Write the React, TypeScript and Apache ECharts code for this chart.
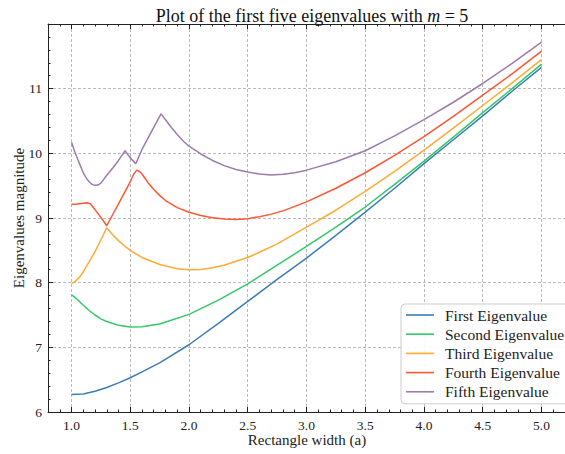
import React, { useEffect, useRef } from "react";
import * as echarts from "echarts";

// ---- Data ----
const firstX = [1.0, 1.1, 1.2, 1.3, 1.4, 1.5, 1.6, 1.75, 2.0, 2.25, 2.5, 2.75, 3.0, 3.25, 3.5, 3.75, 4.0, 4.25, 4.5, 4.75, 5.0];
const firstY = [6.27, 6.28, 6.32, 6.38, 6.45, 6.53, 6.62, 6.76, 7.04, 7.37, 7.71, 8.05, 8.38, 8.73, 9.09, 9.46, 9.84, 10.21, 10.58, 10.96, 11.33];

const secondX = [1.0, 1.025, 1.05, 1.1, 1.15, 1.2, 1.25, 1.3, 1.4, 1.5, 1.6, 1.75, 2.0, 2.25, 2.5, 2.75, 3.0, 3.25, 3.5, 3.75, 4.0, 4.25, 4.5, 4.75, 5.0];
const secondY = [7.81, 7.78, 7.74, 7.65, 7.57, 7.5, 7.44, 7.4, 7.34, 7.315, 7.32, 7.36, 7.51, 7.73, 7.98, 8.27, 8.56, 8.86, 9.17, 9.52, 9.88, 10.25, 10.63, 11.0, 11.38];

const thirdX = [1.0, 1.025, 1.05, 1.075, 1.1, 1.15, 1.2, 1.25, 1.3, 1.35, 1.4, 1.45, 1.5, 1.6, 1.75, 1.9, 2.0, 2.1, 2.2, 2.3, 2.4, 2.5, 2.6, 2.75, 3.0, 3.25, 3.5, 3.75, 4.0, 4.25, 4.5, 4.75, 5.0];
const thirdY = [7.99, 8.01, 8.05, 8.1, 8.17, 8.32, 8.48, 8.66, 8.85, 8.74, 8.65, 8.57, 8.5, 8.39, 8.28, 8.215, 8.2, 8.205, 8.23, 8.27, 8.33, 8.39, 8.47, 8.6, 8.86, 9.12, 9.41, 9.72, 10.05, 10.39, 10.74, 11.09, 11.45];

const fourthX = [1.0, 1.05, 1.1, 1.13, 1.16, 1.2, 1.25, 1.3, 1.35, 1.4, 1.45, 1.5, 1.53, 1.555, 1.58, 1.6, 1.65, 1.7, 1.75, 1.8, 1.9, 2.0, 2.1, 2.2, 2.3, 2.4, 2.5, 2.6, 2.7, 2.8, 2.9, 3.0, 3.25, 3.5, 3.75, 4.0, 4.25, 4.5, 4.75, 5.0];
const fourthY = [9.21, 9.215, 9.228, 9.235, 9.22, 9.13, 9.01, 8.88, 9.05, 9.22, 9.39, 9.56, 9.68, 9.74, 9.72, 9.68, 9.55, 9.44, 9.35, 9.27, 9.16, 9.09, 9.04, 9.005, 8.985, 8.975, 8.99, 9.02, 9.06, 9.11, 9.18, 9.25, 9.46, 9.7, 9.97, 10.26, 10.57, 10.9, 11.23, 11.58];

const fifthX = [1.0, 1.025, 1.05, 1.075, 1.1, 1.125, 1.15, 1.175, 1.2, 1.225, 1.25, 1.3, 1.35, 1.4, 1.456, 1.5, 1.547, 1.6, 1.65, 1.7, 1.762, 1.8, 1.85, 1.9, 1.95, 2.0, 2.1, 2.2, 2.3, 2.4, 2.5, 2.6, 2.7, 2.8, 2.9, 3.0, 3.25, 3.5, 3.75, 4.0, 4.25, 4.5, 4.75, 5.0];
const fifthY = [10.17, 10.04, 9.92, 9.81, 9.7, 9.62, 9.56, 9.52, 9.505, 9.51, 9.54, 9.66, 9.77, 9.89, 10.04, 9.93, 9.84, 10.06, 10.23, 10.4, 10.61, 10.52, 10.4, 10.29, 10.19, 10.11, 9.99, 9.89, 9.81, 9.75, 9.71, 9.68, 9.665, 9.675, 9.7, 9.74, 9.87, 10.04, 10.27, 10.52, 10.79, 11.08, 11.39, 11.72];

const seriesNames = ["First Eigenvalue", "Second Eigenvalue", "Third Eigenvalue", "Fourth Eigenvalue", "Fifth Eigenvalue"];
const seriesColors = ["#3d7db7", "#33c76a", "#ffaa33", "#ff5633", "#9d7cac"];

const xMajorTicks = [1.0, 1.5, 2.0, 2.5, 3.0, 3.5, 4.0, 4.5, 5.0];

const X_MIN = 0.8;
const X_MAX = 5.2;
const Y_MIN = 6;
const Y_MAX = 12;

const FONT = "Liberation Serif";

function zip(xs: number[], ys: number[]) {
  return xs.map((x, i) => [x, ys[i]]);
}

function minorTicks(): number[] {
  const out: number[] = [];
  for (let i = Math.round(X_MIN * 10); i <= Math.round(X_MAX * 10); i++) {
    if (i % 5 !== 0) out.push(i / 10);
  }
  return out;
}

export default function App() {
  const ref = useRef<HTMLDivElement>(null);

  useEffect(() => {
    if (!ref.current) return;
    const chart = echarts.init(ref.current, null, { renderer: "svg" });
    const xs = [firstX, secondX, thirdX, fourthX, fifthX];
    const ys = [firstY, secondY, thirdY, fourthY, fifthY];
    const minor = minorTicks();

    const axisLine = { show: true, lineStyle: { color: "#222", width: 1 } };
    const gridLine = { show: true, lineStyle: { color: "#a8a8a8", width: 0.8, type: [3, 2] as any } };

    const baseX = {
      type: "value" as const,
      min: X_MIN,
      max: X_MAX,
      gridIndex: 0,
    };

    const option: any = {
      animation: false,
      backgroundColor: "#fff",
      textStyle: { fontFamily: FONT },
      title: {
        text: "{a|Plot of the first five eigenvalues with }{m|m}{a| = 5}",
        left: 307,
        textAlign: "center",
        top: 2,
        textStyle: {
          fontWeight: "normal",
          fontFamily: FONT,
          rich: {
            a: { fontFamily: FONT, fontSize: 18, fontWeight: "normal", color: "#111" },
            m: { fontFamily: FONT, fontSize: 18, fontWeight: "normal", fontStyle: "italic", color: "#111" },
          },
        },
      },
      grid: { left: 48, top: 24, width: 519, height: 388, containLabel: false },
      xAxis: [
        {
          ...baseX,
          position: "bottom",
          axisLine,
          axisTick: { show: true, inside: true, length: 5, customValues: xMajorTicks, lineStyle: { color: "#222" } },
          axisLabel: {
            show: true,
            customValues: xMajorTicks,
            formatter: (v: number) => v.toFixed(1),
            fontFamily: FONT,
            fontSize: 13.5,
            color: "#222",
            margin: 6,
          },
          splitLine: gridLine,
        },
        {
          ...baseX,
          position: "bottom",
          axisLine: { show: false },
          axisTick: { show: true, inside: true, length: 2.5, customValues: minor, lineStyle: { color: "#222" } },
          axisLabel: { show: false },
          splitLine: { show: false },
        },
        {
          ...baseX,
          position: "top",
          axisLine,
          axisTick: { show: true, inside: true, length: 5, customValues: xMajorTicks, lineStyle: { color: "#222" } },
          axisLabel: { show: false },
          splitLine: { show: false },
        },
        {
          ...baseX,
          position: "top",
          axisLine: { show: false },
          axisTick: { show: true, inside: true, length: 2.5, customValues: minor, lineStyle: { color: "#222" } },
          axisLabel: { show: false },
          splitLine: { show: false },
        },
      ],
      yAxis: [
        {
          type: "value",
          min: Y_MIN,
          max: Y_MAX,
          interval: 1,
          position: "left",
          axisLine,
          axisTick: { show: true, inside: true, length: 5, lineStyle: { color: "#222" } },
          minorTick: { show: true, splitNumber: 5, length: 2.5, lineStyle: { color: "#222" } },
          axisLabel: {
            show: true,
            showMaxLabel: false,
            fontFamily: FONT,
            fontSize: 13.5,
            color: "#222",
            margin: 6,
          },
          splitLine: gridLine,
        },
      ],
      legend: {
        show: true,
        data: seriesNames,
        orient: "vertical",
        left: 401,
        top: 304,
        icon: "rect",
        itemWidth: 28,
        itemHeight: 1.6,
        itemGap: 3.2,
        padding: [3, 8, 4, 5],
        backgroundColor: "rgba(255,255,255,0.9)",
        borderColor: "#cccccc",
        borderWidth: 1,
        borderRadius: 4,
        formatter: (name: string) => "{t|" + name + "}",
        textStyle: {
          fontFamily: FONT,
          fontSize: 15.5,
          color: "#222",
          rich: {
            t: { fontFamily: FONT, fontSize: 15.5, color: "#222", padding: [0, 0, 0, 6] },
          },
        },
      },
      graphic: [
        {
          type: "text",
          x: 307,
          y: 440,
          style: { text: "Rectangle width (a)", fontFamily: FONT, fontSize: 15, fill: "#222", align: "center", verticalAlign: "middle" },
        },
        {
          type: "text",
          x: 19,
          y: 218,
          rotation: Math.PI / 2,
          style: { text: "Eigenvalues magnitude", fontFamily: FONT, fontSize: 15, fill: "#222", align: "center", verticalAlign: "middle" },
        },
      ],
      series: seriesNames.map((name, i) => ({
        name,
        type: "line",
        xAxisIndex: 0,
        yAxisIndex: 0,
        data: zip(xs[i], ys[i]),
        showSymbol: false,
        symbol: "none",
        smooth: false,
        color: seriesColors[i],
        itemStyle: { color: seriesColors[i] },
        lineStyle: { color: seriesColors[i], width: 1.5 },
        z: 3,
      })),
    };

    chart.setOption(option);
    return () => chart.dispose();
  }, []);

  return (
    <div
      ref={ref}
      style={{ position: "fixed", left: 0, top: 0, width: 565, height: 454 }}
    />
  );
}
